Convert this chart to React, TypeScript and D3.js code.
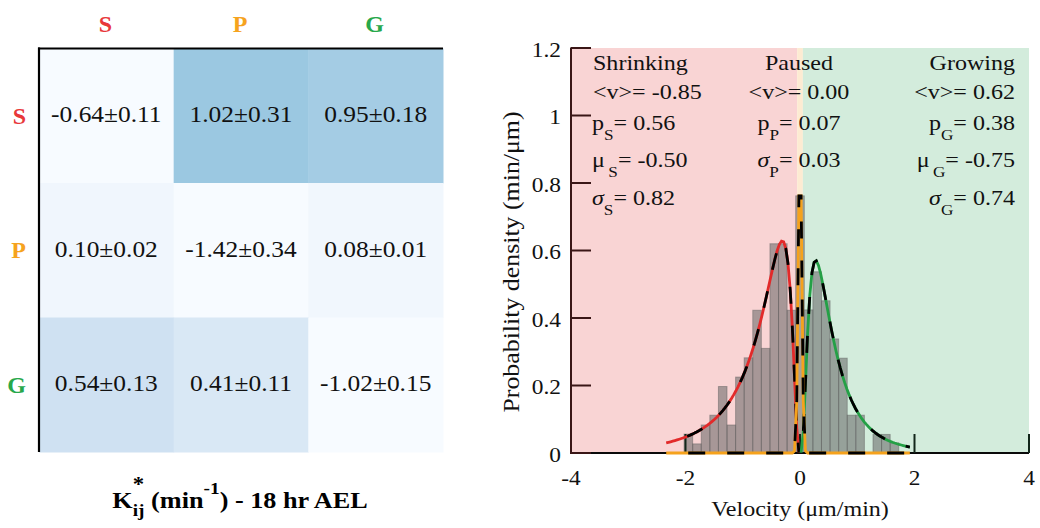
import React from 'react';
import * as d3 from 'd3';

// ---------- transition-rate matrix (left panel) ----------
const states = ['S', 'P', 'G'];
const stateColors = ['#e8383a', '#f6a31e', '#28a84b'];
const rateMeans = [
  [-0.64, 1.02, 0.95],
  [0.10, -1.42, 0.08],
  [0.54, 0.41, -1.02],
];
const rateErrs = [
  [0.11, 0.31, 0.18],
  [0.02, 0.34, 0.01],
  [0.13, 0.11, 0.15],
];

// ---------- velocity histogram (right panel) ----------
const binCenters = [
  -1.95, -1.8, -1.65, -1.5, -1.35, -1.2, -1.05, -0.9, -0.75, -0.6, -0.45, -0.3, -0.15,
  0, 0.15, 0.3, 0.45, 0.6, 0.75, 0.9, 1.05, 1.2, 1.35, 1.5, 1.65,
];
const binDensity = [
  0.056, 0.027, 0.083, 0.112, 0.197, 0.083, 0.225, 0.282, 0.423, 0.31, 0.62, 0.62, 0.423,
  0.762, 0.424, 0.537, 0.451, 0.338, 0.281, 0.112, 0.112, 0, 0.055, 0.055, 0.03,
];
const binWidth = 0.15;

const yTicks = [0, 0.2, 0.4, 0.6, 0.8, 1, 1.2];
const xTicks = [-4, -2, 0, 2, 4];

// phase regions: shrinking | paused | growing
const regionEdges = [-4, -0.05, 0.05, 4];
const regionFills = ['#f9d4d4', '#fdebd2', '#d3ecdc'];

// fitted mixture components
const shrinkFit = { mean: -0.85, p: 0.56, mu: -0.5, sigma: 0.82 };
const pausedFit = { mean: 0.0, p: 0.07, sigma: 0.03 };
const growFit = { mean: 0.62, p: 0.38, mu: -0.75, sigma: 0.74 };

// evaluation grid for the fitted densities (half-step offset around 0)
const gridStep = 0.038;
const velocityGrid = d3.range(-62, 51).map((k) => (k + 0.5) * gridStep);

const SERIF = "'Liberation Serif', 'Times New Roman', Times, serif";
const SQRT2PI = Math.sqrt(2 * Math.PI);
const lognormalPdf = (v: number, mu: number, s: number) =>
  v <= 0 ? 0 : Math.exp(-((Math.log(v) - mu) ** 2) / (2 * s * s)) / (v * s * SQRT2PI);
const normalPdf = (v: number, m: number, s: number) =>
  Math.exp(-((v - m) ** 2) / (2 * s * s)) / (s * SQRT2PI);

type TProps = {
  x: number;
  y: number;
  sx?: number;
  size?: number;
  anchor?: 'start' | 'middle' | 'end';
  weight?: string;
  fill?: string;
  rotate?: number;
  children?: React.ReactNode;
};

function T({ x, y, sx = 1.145, size = 21, anchor = 'start', weight = 'normal', fill = '#111', rotate = 0, children }: TProps) {
  return (
    <text
      transform={`translate(${x},${y})${rotate ? ` rotate(${rotate})` : ''} scale(${sx},1)`}
      fontSize={size}
      textAnchor={anchor}
      fontWeight={weight}
      fill={fill}
      fontFamily={SERIF}
    >
      {children}
    </text>
  );
}

function Stat({ x, y, anchor, symbol, italic = false, gap = 0, sub, value }: {
  x: number; y: number; anchor: 'start' | 'middle' | 'end'; symbol: string; italic?: boolean; gap?: number; sub: string; value: number;
}) {
  return (
    <T x={x} y={y} anchor={anchor}>
      <tspan fontStyle={italic ? 'italic' : 'normal'}>{symbol}</tspan>
      <tspan fontSize={15} dx={gap} dy={10}>{sub}</tspan>
      <tspan dy={-10}>= {value.toFixed(2)}</tspan>
    </T>
  );
}

function MeanLine({ x, y, anchor, value }: { x: number; y: number; anchor: 'start' | 'middle' | 'end'; value: number }) {
  return (
    <T x={x} y={y} anchor={anchor}>
      {`<v>= ${value.toFixed(2)}`}
    </T>
  );
}

function RateMatrix() {
  const xb = d3.scaleBand<string>().domain(states).range([39, 443]);
  const yb = d3.scaleBand<string>().domain(states).range([48.5, 452]);
  const color = d3.scaleSequential(d3.interpolateBlues).domain([0, 2.7]).clamp(true);
  const bw = xb.bandwidth();
  const bh = yb.bandwidth();
  return (
    <g>
      {states.map((from, i) =>
        states.map((to, j) => (
          <g key={`${from}${to}`}>
            <rect x={xb(to)!} y={yb(from)!} width={bw + 0.5} height={bh + 0.5} fill={color(rateMeans[i][j])} />
            <T x={xb(to)! + bw / 2} y={yb(from)! + bh / 2 + 6.5} anchor="middle" size={24} sx={1.06}>
              {`${rateMeans[i][j].toFixed(2)}±${rateErrs[i][j].toFixed(2)}`}
            </T>
          </g>
        ))
      )}
      <line x1={38} x2={443} y1={48.5} y2={48.5} stroke="#000" strokeWidth={2.2} />
      <line x1={39} x2={39} y1={47.5} y2={452} stroke="#000" strokeWidth={2.2} />
      {states.map((s, i) => (
        <T key={`c${s}`} x={xb(s)! + bw / 2 - 1} y={31.5} anchor="middle" size={24} sx={1} weight="bold" fill={stateColors[i]}>
          {s}
        </T>
      ))}
      {states.map((s, i) => (
        <T key={`r${s}`} x={26} y={yb(s)! + bh / 2 + 8} anchor="end" size={24} sx={1} weight="bold" fill={stateColors[i]}>
          {s}
        </T>
      ))}
      <T x={240} y={508} anchor="middle" size={23} sx={1.14} weight="bold" fill="#000">
        <tspan>K</tspan>
        <tspan fontSize={20} dy={-17}>*</tspan>
        <tspan fontSize={17} dx={-10} dy={25}>ij</tspan>
        <tspan dy={-8}> (min</tspan>
        <tspan fontSize={17} dy={-14}>-1</tspan>
        <tspan dy={14}>) - 18 hr AEL</tspan>
      </T>
    </g>
  );
}

function VelocityPanel() {
  const xs = d3.scaleLinear().domain([-4, 4]).range([571, 1029]);
  const ys = d3.scaleLinear().domain([0, 1.2]).range([453, 48]);
  const line = d3
    .line<[number, number]>()
    .x((d) => xs(d[0]))
    .y((d) => ys(d[1]));

  const shrinkPts: [number, number][] = velocityGrid
    .filter((v) => v < 0)
    .map((v) => [v, shrinkFit.p * lognormalPdf(-v, shrinkFit.mu, shrinkFit.sigma)]);
  const growPts: [number, number][] = velocityGrid
    .filter((v) => v > 0)
    .map((v) => [v, growFit.p * lognormalPdf(v, growFit.mu, growFit.sigma)]);
  const pausedPts: [number, number][] = velocityGrid.map((v) => [v, pausedFit.p * normalPdf(v, pausedFit.mean, pausedFit.sigma)]);

  const components = [
    { key: 'S', pts: shrinkPts, color: '#e22a2a' },
    { key: 'G', pts: growPts, color: '#24a046' },
    { key: 'P', pts: pausedPts, color: '#f5a21c' },
  ];

  const colX = [593, xs(0) - 1, 1015];
  const rowY = [70, 98.5, 129.5, 166.5, 205];

  return (
    <g>
      {regionFills.map((c, i) => (
        <rect
          key={c}
          x={xs(regionEdges[i])}
          y={ys(1.2)}
          width={xs(regionEdges[i + 1]) - xs(regionEdges[i])}
          height={ys(0) - ys(1.2)}
          fill={c}
        />
      ))}

      {binCenters.map((c, i) =>
        binDensity[i] > 0 ? (
          <rect
            key={c}
            x={xs(c - binWidth / 2)}
            y={ys(binDensity[i])}
            width={xs(c + binWidth / 2) - xs(c - binWidth / 2)}
            height={ys(0) - ys(binDensity[i])}
            fill="#646464"
            fillOpacity={0.55}
            stroke="#5a5a5a"
            strokeOpacity={0.45}
            strokeWidth={1}
          />
        ) : null
      )}

      {/* axes */}
      <line x1={xs(-4)} x2={xs(4)} y1={ys(0)} y2={ys(0)} stroke="#0a0a0a" strokeWidth={2} />
      {xTicks.map((t) => (
        <line key={`xt${t}`} x1={xs(t)} x2={xs(t)} y1={ys(0)} y2={ys(0) - 19} stroke="#12261a" strokeWidth={2} />
      ))}
      <line x1={xs(-4)} x2={xs(-4)} y1={ys(1.2) - 0.5} y2={ys(0) + 1} stroke="#3a1616" strokeWidth={2} />
      {yTicks.map((t) => (
        <line key={`yt${t}`} x1={xs(-4)} x2={xs(-4) + 20} y1={ys(t)} y2={ys(t)} stroke="#3a1616" strokeWidth={2} />
      ))}

      {/* fitted components: solid colour with black dashes on top */}
      {components.map((c) => (
        <g key={c.key}>
          <path d={line(c.pts)!} fill="none" stroke={c.color} strokeWidth={2.8} />
          <path
            d={line(c.pts)!}
            fill="none"
            stroke="#000"
            strokeWidth={2.8}
            strokeDasharray="17 22"
            strokeDashoffset={17}
          />
        </g>
      ))}

      {/* tick labels */}
      {yTicks.map((t) => (
        <T key={`yl${t}`} x={561} y={ys(t) + 8.5} anchor="end" size={20.5} sx={1.14}>
          {String(t)}
        </T>
      ))}
      {xTicks.map((t) => (
        <T key={`xl${t}`} x={xs(t)} y={485} anchor="middle" size={20.5} sx={1.14}>
          {String(t)}
        </T>
      ))}
      <T x={800} y={516} anchor="middle">Velocity (μm/min)</T>
      <T x={519} y={262} anchor="middle" rotate={-90} size={22.5} sx={1.15}>
        Probability density (min/μm)
      </T>

      {/* shrinking */}
      <T x={colX[0]} y={rowY[0]}>Shrinking</T>
      <MeanLine x={colX[0]} y={rowY[1]} anchor="start" value={shrinkFit.mean} />
      <Stat x={colX[0] - 1} y={rowY[2]} anchor="start" symbol="p" sub="S" value={shrinkFit.p} />
      <Stat x={colX[0] - 1} y={rowY[3]} anchor="start" symbol="μ" gap={3} sub="S" value={shrinkFit.mu} />
      <Stat x={colX[0] - 1} y={rowY[4]} anchor="start" symbol="σ" italic sub="S" value={shrinkFit.sigma} />

      {/* paused */}
      <T x={colX[1]} y={rowY[0]} anchor="middle">Paused</T>
      <MeanLine x={colX[1]} y={rowY[1]} anchor="middle" value={pausedFit.mean} />
      <Stat x={colX[1]} y={rowY[2]} anchor="middle" symbol="p" sub="P" value={pausedFit.p} />
      <Stat x={colX[1]} y={rowY[3]} anchor="middle" symbol="σ" italic sub="P" value={pausedFit.sigma} />

      {/* growing */}
      <T x={colX[2]} y={rowY[0]} anchor="end">Growing</T>
      <MeanLine x={colX[2]} y={rowY[1]} anchor="end" value={growFit.mean} />
      <Stat x={colX[2]} y={rowY[2]} anchor="end" symbol="p" sub="G" value={growFit.p} />
      <Stat x={colX[2]} y={rowY[3]} anchor="end" symbol="μ" gap={3} sub="G" value={growFit.mu} />
      <Stat x={colX[2]} y={rowY[4]} anchor="end" symbol="σ" italic sub="G" value={growFit.sigma} />
    </g>
  );
}

export default function App() {
  return (
    <svg
      width={1040}
      height={528}
      viewBox="0 0 1040 528"
      style={{ position: 'absolute', left: 0, top: 0, background: '#fff' }}
    >
      <rect width={1040} height={528} fill="#fff" />
      <RateMatrix />
      <VelocityPanel />
    </svg>
  );
}
